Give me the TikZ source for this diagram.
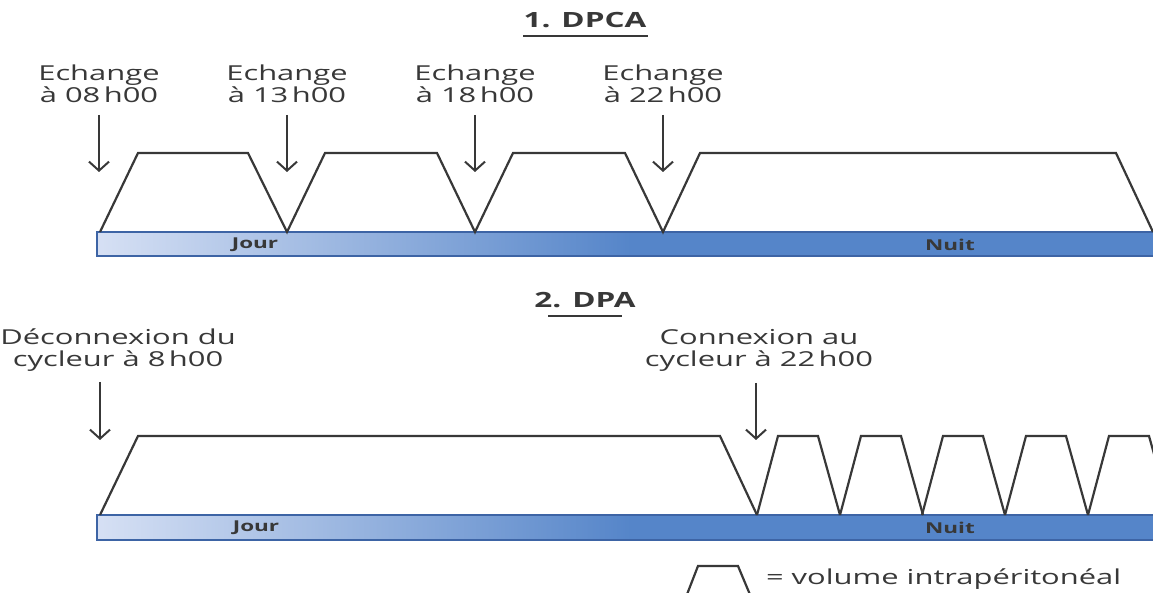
\documentclass[tikz,border=0pt]{standalone}
\usepackage{fontspec}
\setsansfont{Open Sans}[FakeStretch=1.5]
\usetikzlibrary{arrows.meta, calc}
\definecolor{cink}{HTML}{383838}
\definecolor{clight}{HTML}{D6E0F4}
\definecolor{cblue}{HTML}{5585C9}
\definecolor{cedge}{HTML}{3D64A5}
\pgfdeclarehorizontalshading{barshade}{100bp}{color(0bp)=(clight); color(25bp)=(clight); color(50bp)=(cblue); color(100bp)=(cblue)}
\tikzset{
  every picture/.style={font=\sffamily, line width=1pt},
  vol/.style={draw=cink, line width=1.1pt},
  bar/.style={shading=barshade, draw=cedge, line width=1pt},
  arrow/.style={-{Straight Barb[length=4.5pt, width=10pt]}, draw=cink, line width=1pt},
  lbl/.style={font=\sffamily\fontsize{10.3}{11}\selectfont, text=cink, align=center, inner sep=0pt},
  title/.style={font=\sffamily\bfseries\fontsize{10.5}{12}\selectfont, text=cink, inner sep=0pt},
  period/.style={font=\sffamily\bfseries\fontsize{7.5}{8}\selectfont, text=cink},
}

\begin{document}
\begin{tikzpicture}[x=0.5pt, y=-0.5pt]
  \useasboundingbox (0,0) rectangle (1153,593);
  \clip (0,0) rectangle (1153,593);
  % 1. DPCA
  \node[title] (t1) at (585,20) {1. DPCA};
  \draw[cink, line width=0.8pt] (523,36) -- (648,36);
  \shadedraw[bar] (97,232) rectangle (1165,256);
  \node[period] (j1) at (255,245) {Jour};
  \node[period] (n1) at (950,245) {Nuit};
  \draw[vol] (100,232) -- (138,153) -- (248,153) -- (287,232) -- (325,153) -- (437,153)
    -- (475,232) -- (513,153) -- (625,153) -- (663,232) -- (700,153) -- (1116,153) -- (1153,232);
  \foreach \t/\x [count=\i] in {08/99,13/287,18/475,22/663} {
    \node[lbl] (e\i) at (\x,84) {Echange\\à \t\,h00};
    \coordinate (s\i) at (\x,115);
    \coordinate (d\i) at (\x,172);
    \draw[arrow] (s\i) -- (d\i);
  }
  % 2. DPA
  \node[title] (t2) at (585,300) {2. DPA};
  \draw[cink, line width=0.8pt] (548,316) -- (622,316);
  \shadedraw[bar] (97,515) rectangle (1165,540);
  \node[period] (j2) at (256,528) {Jour};
  \node[period] (n2) at (950,528) {Nuit};
  \draw[vol] (100,515) -- (138,436) -- (720,436) -- (757,515);
  \foreach \s in {757,840,922,1005,1088}
    \draw[vol] (\s,515) -- (\s+21,436) -- (\s+61,436) -- (\s+83,515);
  \node[lbl] (dec) at (118,350) {Déconnexion du\\cycleur à 8\,h00};
  \node[lbl] (con) at (759,350) {Connexion au\\cycleur à 22\,h00};
  \coordinate (sd) at (100,382);
  \coordinate (dd) at (100,440);
  \coordinate (sc) at (756,383);
  \coordinate (dc) at (756,440);
  \draw[arrow] (sd) -- (dd);
  \draw[arrow] (sc) -- (dc);
  % legend
  \draw[vol] (686,597) -- (698,566) -- (738,566) -- (751,597);
  \node[lbl, anchor=west] (leg) at (765,579) {= volume intrapéritonéal};
\end{tikzpicture}
\end{document}
